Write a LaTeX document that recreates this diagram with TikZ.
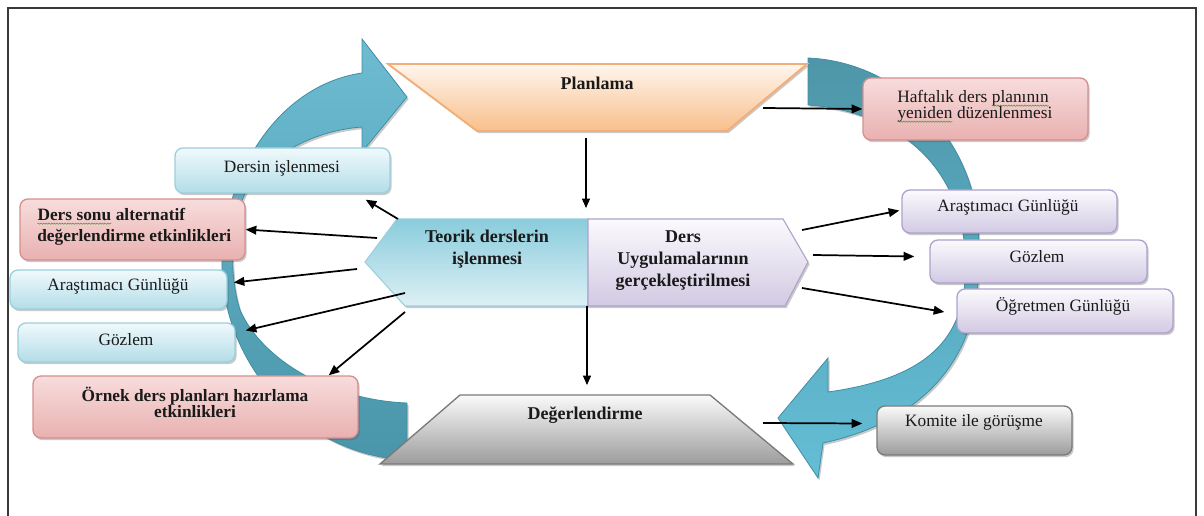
\documentclass[tikz,border=0pt]{standalone}
\usepackage{fontspec}
\setmainfont{Liberation Serif}
\usetikzlibrary{shadows,decorations.pathmorphing,arrows.meta,fit}

\definecolor{textc}{HTML}{1A1A1A}
\definecolor{framec}{HTML}{3A3A3A}
\definecolor{tealA}{HTML}{6DBCD1}
\definecolor{tealB}{HTML}{4995AA}
\definecolor{tealC}{HTML}{4E96A8}
\definecolor{tealD}{HTML}{64BED6}
\definecolor{tealedge}{HTML}{3F8EA3}
\definecolor{peachtop}{HTML}{FFF6EE}
\definecolor{peachbot}{HTML}{F8BF8B}
\definecolor{peachedge}{HTML}{F2AE78}
\definecolor{greytop}{HTML}{FAFAFA}
\definecolor{greybot}{HTML}{9C9C9C}
\definecolor{greyedge}{HTML}{7A7A7A}
\definecolor{cyantop}{HTML}{F0F9FC}
\definecolor{cyanbot}{HTML}{B3DDE8}
\definecolor{cyanedge}{HTML}{9CCFDD}
\definecolor{ctrcyanA}{HTML}{8ACCDC}
\definecolor{ctrcyanB}{HTML}{DDF0F5}
\definecolor{pinktop}{HTML}{F8DCDC}
\definecolor{pinkbot}{HTML}{E8B1B0}
\definecolor{pinkedge}{HTML}{D4908F}
\definecolor{lavtop}{HTML}{FBFAFD}
\definecolor{lavbot}{HTML}{D2C9E3}
\definecolor{lavedge}{HTML}{ADA2CC}
\definecolor{spellgreen}{HTML}{4E9A3E}

% wavy proofing mark under a word
\newcommand\spellmark[1]{\tikz[baseline=(sw.base)]{%
  \node[inner sep=0pt,outer sep=0pt] (sw) {#1};
  \draw[spellgreen, line width=0.4pt, decorate,
        decoration={snake, amplitude=0.45pt, segment length=2pt}]
    ([yshift=-2pt]sw.base west) -- ([yshift=-2pt]sw.base east);}}

\begin{document}
\begin{tikzpicture}[x=0.75pt, y=-0.75pt,
  lbl/.style={inner sep=0pt, text=textc, font=\fontsize{13}{15}\selectfont},
  blbl/.style={lbl, font=\fontsize{13}{15}\selectfont\bfseries},
  clbl/.style={lbl, font=\fontsize{13.5}{16}\selectfont\bfseries},
  softshadow/.style={drop shadow={shadow xshift=1.2pt, shadow yshift=-1.6pt,
      opacity=0.3, fill=black!70}},
  box/.style={draw, rounded corners=6pt, line width=1pt, inner sep=0pt, softshadow},
  cyanbox/.style={box, draw=cyanedge, top color=cyantop, bottom color=cyanbot},
  pinkbox/.style={box, draw=pinkedge, top color=pinktop, bottom color=pinkbot},
  lavbox/.style={box, draw=lavedge, top color=lavtop, bottom color=lavbot},
  greybox/.style={box, draw=greyedge, top color=greytop, bottom color=greybot},
  bigarrowL/.style={draw=tealedge, line width=0.6pt, top color=tealA, bottom color=tealB, softshadow},
  bigarrowR/.style={draw=tealedge, line width=0.6pt, top color=tealC, bottom color=tealD, softshadow},
  conn/.style={line width=1.3pt, black, -{Triangle[length=8pt,width=6.5pt]}},
  vconn/.style={line width=0.8pt, black, -{Triangle[length=7pt,width=6pt]}}
]
\useasboundingbox (0,0) rectangle (1204,516);

% outer frame
\draw[framec, line width=1.4pt] (8,530) -- (8,8) -- (1196,8) -- (1196,530);

% circular cycle arrows (band narrows along the sides)
\path[bigarrowL] (407,460) -- (407,403)
  .. controls (330,400) and (262,360) .. (240,310)
  .. controls (228,272) and (230,215) .. (250,185)
  .. controls (275,150) and (320,130) .. (362,127)
  -- (362,152) -- (407,97) -- (362,39) -- (362,73)
  .. controls (280,85) and (225,170) .. (222,260)
  .. controls (220,360) and (300,455) .. (407,460) -- cycle;
\path[bigarrowR] (808,58) -- (808,105)
  .. controls (880,110) and (952,150) .. (964,240)
  .. controls (972,320) and (950,375) .. (828,392)
  -- (828,358) -- (778,418) -- (818,478) -- (823,443)
  .. controls (930,420) and (985,350) .. (978,250)
  .. controls (985,150) and (905,62) .. (808,58) -- cycle;

% planning and evaluation trapezoids
\path[draw=peachedge, line width=1.4pt, top color=peachtop, bottom color=peachbot, softshadow]
  (388,64) -- (807,64) -- (727,131) -- (477,131) -- cycle;
\path[draw=greyedge, line width=1pt, top color=greytop, bottom color=greybot, softshadow]
  (460,395) -- (710,395) -- (793,464) -- (380,464) -- cycle;

% central two-part banner
\path[draw=cyanedge, line width=0.8pt, top color=ctrcyanA, bottom color=ctrcyanB, softshadow]
  (588,219) -- (397,219) -- (365,262) -- (405,306) -- (588,306) -- cycle;
\path[draw=lavedge, line width=0.8pt, top color=lavtop, bottom color=lavbot, softshadow]
  (588,219) -- (783,219) -- (808,262) -- (785,306) -- (588,306) -- cycle;

% boxes, left side
\node[cyanbox, fit={(175,148) (390,193)}] (dersin) {};
\node[pinkbox, fit={(20,199) (245,260)}] (sonu) {};
\node[cyanbox, fit={(10,270) (227,309)}] (arasL) {};
\node[cyanbox, fit={(18,323) (235,362)}] (gozL) {};
\node[pinkbox, fit={(33,376) (358,438)}] (ornek) {};
% boxes, right side
\node[pinkbox, fit={(863,78) (1088,140)}] (haft) {};
\node[lavbox, fit={(902,190) (1117,233)}] (arasR) {};
\node[lavbox, fit={(930,240) (1147,283)}] (gozR) {};
\node[lavbox, fit={(957,289) (1173,333)}] (ogr) {};
\node[greybox, fit={(877,406) (1072,455)}] (komite) {};

% labels
\node[clbl, anchor=base] (planT) at (597,90) {Planlama};
\node[clbl, anchor=base] (teoT1) at (487,243) {Teorik derslerin};
\node[clbl, anchor=base] (teoT2) at (487,265) {işlenmesi};
\node[clbl, anchor=base] (uygT1) at (683,243) {Ders};
\node[clbl, anchor=base] (uygT2) at (683,265) {Uygulamalarının};
\node[clbl, anchor=base] (uygT3) at (683,287) {gerçekleştirilmesi};
\node[clbl, anchor=base] (degT) at (585,420) {Değerlendirme};

\node[lbl, anchor=base] (dersinT) at (282,173) {Dersin işlenmesi};
\node[blbl, anchor=base west] (sonuT1) at (37,221) {\spellmark{Ders sonu} alternatif};
\node[blbl, anchor=base west] (sonuT2) at (37,242) {değerlendirme etkinlikleri};
\node[lbl, anchor=base] (arasLT) at (118,291) {Araştımacı Günlüğü};
\node[lbl, anchor=base] (gozLT) at (126,346) {Gözlem};
\node[blbl, anchor=base] (ornekT1) at (195,402) {Örnek ders planları hazırlama};
\node[blbl, anchor=base] (ornekT2) at (195,418) {etkinlikleri};

\node[lbl, anchor=base west] (haftT1) at (897,103) {Haftalık ders \spellmark{planının}};
\node[lbl, anchor=base west] (haftT2) at (897,119) {\spellmark{yeniden} düzenlenmesi};
\node[lbl, anchor=base] (arasRT) at (1008,212) {Araştımacı Günlüğü};
\node[lbl, anchor=base] (gozRT) at (1037,263) {Gözlem};
\node[lbl, anchor=base] (ogrT) at (1063,312) {Öğretmen Günlüğü};
\node[lbl, anchor=base] (komT) at (974,427) {Komite ile görüşme};

% connector end points on the drawn shapes
\coordinate (planR) at (763,108);
\coordinate (planB) at (586,138);
\coordinate (ctrT) at (586,208);
\coordinate (ctrB) at (587,306);
\coordinate (degT0) at (587,385);
\coordinate (degR) at (763,423);
\coordinate (ctrL1) at (398,219);
\coordinate (ctrL2) at (377,238);
\coordinate (ctrL3) at (357,269);
\coordinate (ctrL4) at (405,293);
\coordinate (ctrL5) at (405,312);
\coordinate (ctrR1) at (802,230);
\coordinate (ctrR2) at (813,255);
\coordinate (ctrR3) at (802,288);

% connectors
\draw[vconn] (planB) -- (ctrT);
\draw[vconn] (ctrB) -- (degT0);
\draw[conn] (planR) -- (haft.west);
\draw[conn] (degR) -- ([shift={(-14,-7)}]komite.west);
\draw[conn] (ctrL1) -- ([shift={(-25,6)}]dersin.south east);
\draw[conn] (ctrL2) -- (sonu.east);
\draw[conn] (ctrL3) -- ([shift={(6,-7)}]arasL.east);
\draw[conn] (ctrL4) -- ([shift={(10,-12)}]gozL.east);
\draw[conn] (ctrL5) -- ([shift={(-30,0)}]ornek.north east);
\draw[conn] (ctrR1) -- ([shift={(-2,-1)}]arasR.west);
\draw[conn] (ctrR2) -- ([shift={(-15,-5)}]gozR.west);
\draw[conn] (ctrR3) -- ([shift={(-12,1)}]ogr.west);
\end{tikzpicture}
\end{document}
